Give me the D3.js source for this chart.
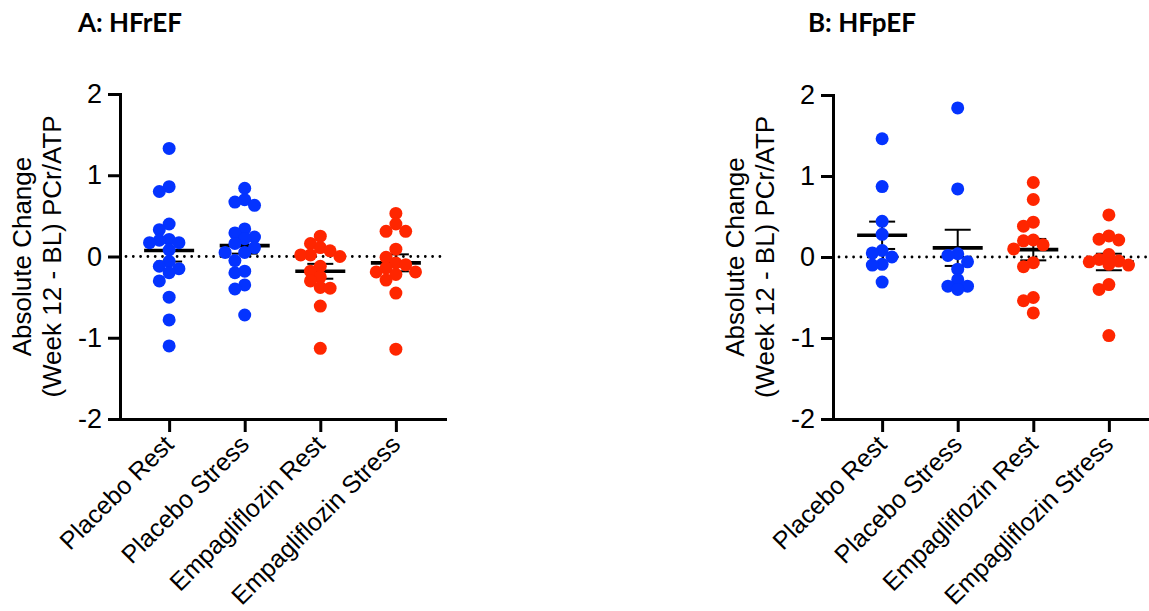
<!DOCTYPE html>
<html>
<head>
<meta charset="utf-8">
<script src="https://cdn.jsdelivr.net/npm/d3@7"></script>
<style>
  body { margin: 0; background: #fff; }
  svg { display: block; }
</style>
</head>
<body>
<div id="chart"></div>
<script>
// values
const categories = ["Placebo Rest", "Placebo Stress", "Empagliflozin Rest", "Empagliflozin Stress"];
const yTickValues = [-2, -1, 0, 1, 2];
const yTitleLines = ["Absolute Change", "(Week 12 - BL) PCr/ATP"];

const hfrefPlaceboRest = [1.33, 0.80, 0.86, 0.40, 0.33, 0.21, 0.17, 0.17, 0.20, 0.08, -0.06, -0.20, -0.15, -0.12, -0.30, -0.50, -0.78, -1.10];
const hfrefPlaceboStress = [0.84, 0.67, 0.63, 0.70, 0.29, 0.34, 0.24, 0.22, 0.16, 0.11, 0.05, 0.05, -0.05, -0.18, -0.20, -0.35, -0.40, -0.72];
const hfrefEmpaRest = [0.25, 0.16, 0.11, 0.07, 0.02, 0.00, 0.02, -0.12, -0.18, -0.25, -0.30, -0.39, -0.38, -0.61, -1.13];
const hfrefEmpaStress = [0.53, 0.40, 0.31, 0.31, 0.09, -0.01, -0.10, -0.08, -0.19, -0.29, -0.19, -0.22, -0.14, -0.45, -1.14];

const hfpefPlaceboRest = [1.46, 0.87, 0.44, 0.28, 0.05, 0.08, 0.00, -0.09, -0.10, -0.31];
const hfpefPlaceboStress = [1.84, 0.84, 0.02, 0.04, -0.06, -0.15, -0.28, -0.36, -0.36, -0.40];
const hfpefEmpaRest = [0.92, 0.71, 0.43, 0.38, 0.15, 0.21, 0.20, 0.10, -0.07, -0.12, -0.50, -0.54, -0.69];
const hfpefEmpaStress = [0.52, 0.26, 0.21, 0.22, 0.03, -0.10, -0.03, -0.06, -0.05, -0.09, -0.34, -0.40, -0.97];

const w = 1149;
const h = 611;
const blue = "#0433ff";
const red = "#ff2600";
const groupColors = [blue, blue, red, red];
const font = "'Liberation Sans', Arimo, Arial, sans-serif";

const svg = d3.select("#chart").append("svg").attr("width", w).attr("height", h);

// simple beeswarm: place each dot as close to the centre as it can go
function swarm(values, yScale) {
  const step = 9.8;
  const minDist = 9.7;
  const placed = [];
  values
    .map((v) => ({ v: v, y: yScale(v) }))
    .sort((a, b) => b.v - a.v)
    .forEach((p) => {
      for (let k = 0; k < 30; k++) {
        const n = Math.ceil(k / 2);
        const off = (k % 2 === 1 ? -1 : 1) * n * step;
        const ok = placed.every((q) => Math.hypot(q.dx - off, q.y - p.y) >= minDist);
        if (ok) {
          placed.push({ v: p.v, y: p.y, dx: off });
          break;
        }
      }
    });
  return placed;
}

function drawPanel(p) {
  const g = svg.append("g");

  const yScale = d3.scaleLinear().domain([-2, 2]).range([p.bottom, p.top]);
  const xScale = d3.scalePoint().domain(categories).range([p.left, p.right]).padding(0.65);

  // title
  svg.append("text")
    .attr("x", p.titleX)
    .attr("y", 32)
    .attr("font-family", "Lato, 'Open Sans', sans-serif")
    .attr("font-weight", "bold")
    .attr("font-size", 26)
    .text(p.title);

  // y title, two rotated lines
  yTitleLines.forEach((line, i) => {
    g.append("text")
      .attr("transform", "translate(" + (p.left - 89 + i * 30) + "," + (p.top + p.bottom) / 2 + ") rotate(-90)")
      .attr("text-anchor", "middle")
      .attr("font-family", font)
      .attr("font-size", 26)
      .text(line);
  });

  // dotted zero line
  g.append("line")
    .attr("x1", p.left + 6)
    .attr("x2", p.right)
    .attr("y1", yScale(0))
    .attr("y2", yScale(0))
    .attr("stroke", "#000")
    .attr("stroke-width", 2.8)
    .attr("stroke-linecap", "round")
    .attr("stroke-dasharray", "0,7.3");

  p.groups.forEach((vals, i) => {
    const cx = xScale(categories[i]);
    const mean = d3.mean(vals);
    const sem = d3.deviation(vals) / Math.sqrt(vals.length);
    const eg = g.append("g").attr("stroke", "#000");
    eg.append("line")
      .attr("x1", cx).attr("x2", cx)
      .attr("y1", yScale(mean - sem)).attr("y2", yScale(mean + sem))
      .attr("stroke-width", 2);
    [mean - sem, mean + sem].forEach((v) => {
      eg.append("line")
        .attr("x1", cx - 13).attr("x2", cx + 13)
        .attr("y1", yScale(v)).attr("y2", yScale(v))
        .attr("stroke-width", 2);
    });
    eg.append("line")
      .attr("x1", cx - 25).attr("x2", cx + 25)
      .attr("y1", yScale(mean)).attr("y2", yScale(mean))
      .attr("stroke-width", 3.6);

    g.append("g")
      .selectAll("circle")
      .data(swarm(vals, yScale))
      .enter()
      .append("circle")
      .attr("cx", (d) => cx + d.dx)
      .attr("cy", (d) => d.y)
      .attr("r", 6.5)
      .attr("fill", groupColors[i]);
  });

  // axes
  const yAxis = d3.axisLeft(yScale)
    .tickValues(yTickValues)
    .tickSizeInner(12)
    .tickSizeOuter(0)
    .tickPadding(6)
    .tickFormat((d) => String(d));
  const ya = g.append("g").attr("transform", "translate(" + p.left + ",0)").call(yAxis);
  ya.selectAll("text").attr("font-family", font).attr("font-size", 27).attr("fill", "#000");

  const xAxis = d3.axisBottom(xScale).tickSizeInner(13).tickSizeOuter(0).tickFormat("");
  const xa = g.append("g").attr("transform", "translate(0," + p.bottom + ")").call(xAxis);

  [ya, xa].forEach((a) => {
    a.select(".domain").attr("stroke", "#000").attr("stroke-width", 3).attr("stroke-linecap", "square");
    a.selectAll(".tick line").attr("stroke", "#000").attr("stroke-width", 3);
  });

  categories.forEach((c) => {
    g.append("text")
      .attr("transform", "translate(" + (xScale(c) + 6) + "," + (p.bottom + 27) + ") rotate(-45)")
      .attr("text-anchor", "end")
      .attr("font-family", font)
      .attr("font-size", 25)
      .text(c);
  });
}

drawPanel({
  title: "A: HFrEF", titleX: 78,
  left: 120, right: 445, top: 94, bottom: 419,
  groups: [hfrefPlaceboRest, hfrefPlaceboStress, hfrefEmpaRest, hfrefEmpaStress],
});
drawPanel({
  title: "B: HFpEF", titleX: 808,
  left: 833, right: 1158, top: 95, bottom: 419,
  groups: [hfpefPlaceboRest, hfpefPlaceboStress, hfpefEmpaRest, hfpefEmpaStress],
});
</script>
</body>
</html>
